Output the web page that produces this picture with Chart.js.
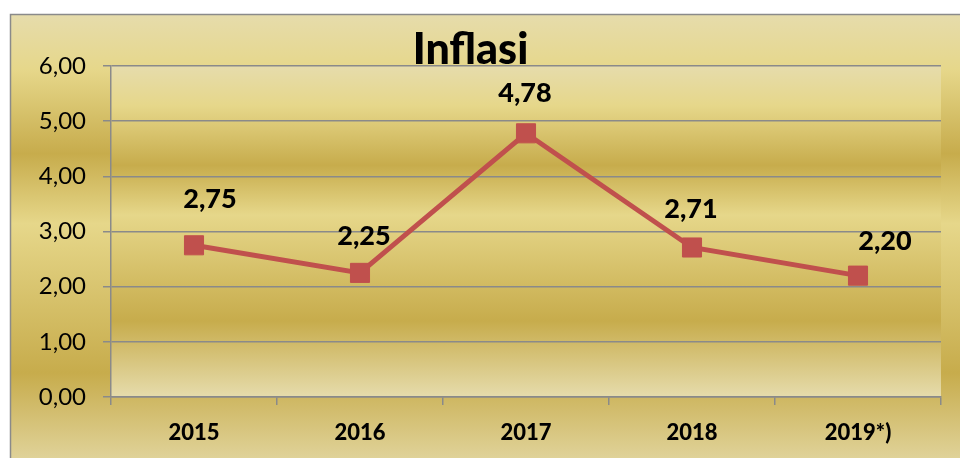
<!DOCTYPE html>
<html>
<head>
<meta charset="utf-8">
<title>Inflasi</title>
<script src="https://cdn.jsdelivr.net/npm/chart.js@4"></script>
<style>
  body { margin: 0; background: #ffffff; }
  #grafica { display: block; }
</style>
</head>
<body>
<canvas id="grafica" width="960" height="458"></canvas>
<script>
// datos del grafico
const tahun = ["2015", "2016", "2017", "2018", "2019*)"];
const inflasi = [2.75, 2.25, 4.78, 2.71, 2.20];
const sumbuMin = 0;
const sumbuMax = 6;
const sumbuStep = 1;

// desplazamiento de las etiquetas respecto al punto (como en el original)
const geserLabel = [[16, -46], [4, -37], [-1, -40], [-1, -38], [27, -34]];

const abu = "#8a8a8a";

function formatKoma(v) {
    return Number(v).toFixed(2).replace(".", ",");
}

// degradado "oro" tipo Excel
function degradadoOro(ctx, y0, y1) {
    const g = ctx.createLinearGradient(0, y0, 0, y1);
    g.addColorStop(0, "#e6dcac");
    g.addColorStop(0.12, "#e6d78a");
    g.addColorStop(0.30, "#c7ac4c");
    g.addColorStop(0.45, "#e6d78a");
    g.addColorStop(0.77, "#c7ac4c");
    g.addColorStop(1, "#e6dcac");
    return g;
}

const fondo = {
    id: "fondo",
    beforeDraw(chart) {
        const ctx = chart.ctx;
        const a = chart.chartArea;
        ctx.save();
        ctx.fillStyle = "#ffffff";
        ctx.fillRect(0, 0, chart.width, chart.height);
        ctx.fillStyle = degradadoOro(ctx, 14, 480);
        ctx.fillRect(10, 14, chart.width, chart.height);
        ctx.strokeStyle = abu;
        ctx.lineWidth = 1.5;
        ctx.strokeRect(10.5, 14.5, chart.width + 20, chart.height + 20);
        ctx.fillStyle = degradadoOro(ctx, a.top, a.bottom);
        ctx.fillRect(a.left, a.top, a.right - a.left, a.bottom - a.top);
        ctx.restore();
    }
};

const etiquetas = {
    id: "etiquetas",
    afterDatasetsDraw(chart) {
        const ctx = chart.ctx;
        const meta = chart.getDatasetMeta(0);
        ctx.save();
        ctx.font = "900 27px Lato";
        ctx.fillStyle = "#000000";
        ctx.textAlign = "center";
        ctx.textBaseline = "middle";
        meta.data.forEach((p, i) => {
            const d = geserLabel[i] || [0, -38];
            ctx.fillText(formatKoma(inflasi[i]), p.x + d[0], p.y + d[1]);
        });
        ctx.restore();
    }
};

const ctx = document.getElementById("grafica").getContext("2d");

new Chart(ctx, {
    type: "line",
    data: {
        labels: tahun,
        datasets: [{
            label: "Inflasi",
            data: inflasi,
            borderColor: "#c0504d",
            backgroundColor: "#c0504d",
            borderWidth: 5,
            pointStyle: "rect",
            pointRadius: 13.5,
            pointBackgroundColor: "#c0504d",
            pointBorderColor: "#c0504d",
            pointBorderWidth: 1,
            tension: 0
        }]
    },
    options: {
        responsive: false,
        animation: false,
        layout: { padding: { left: 0, right: 19, top: 0, bottom: 0 } },
        plugins: {
            legend: { display: false },
            tooltip: { enabled: false },
            title: {
                display: true,
                text: "Inflasi",
                color: "#000000",
                font: { family: "Lato", weight: "900", size: 43, lineHeight: 1 },
                padding: { top: 29, bottom: -6 }
            }
        },
        scales: {
            x: {
                offset: true,
                grid: {
                    offset: true,
                    drawOnChartArea: false,
                    drawTicks: true,
                    tickLength: 8,
                    color: abu,
                    lineWidth: 1.5
                },
                border: { display: true, color: abu, width: 1.5 },
                ticks: {
                    color: "#000000",
                    padding: 15,
                    maxRotation: 0,
                    font: { family: "Lato", weight: "900", size: 22 }
                },
                afterFit(scale) { scale.height = 61; }
            },
            y: {
                min: sumbuMin,
                max: sumbuMax,
                grid: {
                    drawTicks: true,
                    tickLength: 8,
                    color: abu,
                    lineWidth: 1.5
                },
                border: { display: true, color: abu, width: 1.5 },
                ticks: {
                    stepSize: sumbuStep,
                    color: "#000000",
                    padding: 17,
                    font: { family: "Lato", size: 24 },
                    callback: v => formatKoma(v)
                },
                afterFit(scale) { scale.width = 111; }
            }
        }
    },
    plugins: [fondo, etiquetas]
});
</script>
</body>
</html>
